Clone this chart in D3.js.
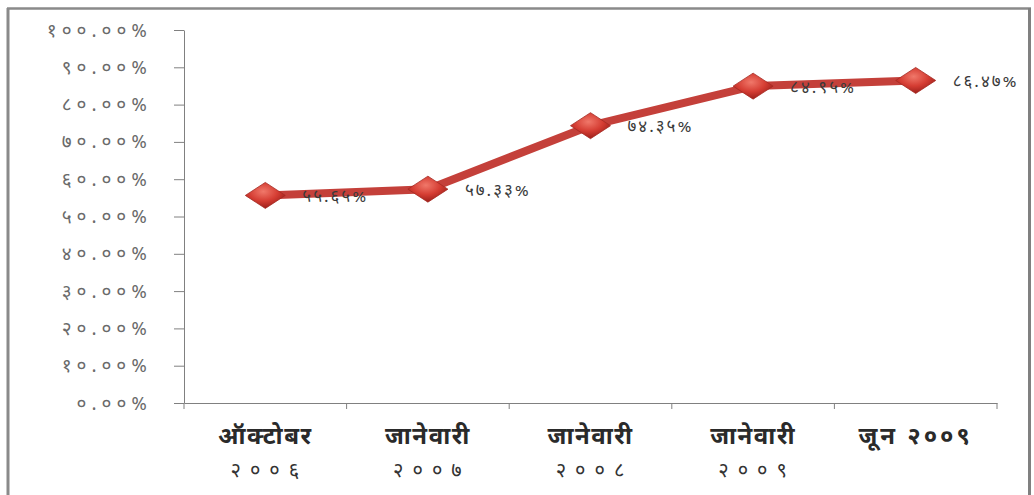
<!DOCTYPE html>
<html><head><meta charset="utf-8">
<script src="https://cdn.jsdelivr.net/npm/d3@7"></script>
<style>
html,body{margin:0;padding:0;background:#fff;}
svg{display:block;}
</style></head>
<body>
<svg id="c" width="1034" height="495"></svg>
<script>
const categoriesLine1 = ["ऑक्टोबर", "जानेवारी", "जानेवारी", "जानेवारी", "जून २००९"];
const categoriesLine2 = ["२००६", "२००७", "२००८", "२००९", ""];
const values = [55.65, 57.33, 74.35, 84.95, 86.47];
const valueLabels = ["५५.६५%", "५७.३३%", "७४.३५%", "८४.९५%", "८६.४७%"];
const yTicks = [0, 10, 20, 30, 40, 50, 60, 70, 80, 90, 100];
const yTickLabels = ["०.००%", "१०.००%", "२०.००%", "३०.००%", "४०.००%", "५०.००%", "६०.००%", "७०.००%", "८०.००%", "९०.००%", "१००.००%"];

const svg = d3.select("#c");
const FONT = "'Noto Sans Devanagari','Noto Sans','Lohit Devanagari',sans-serif";

// frame
svg.append("rect").attr("x",0).attr("y",0).attr("width",1034).attr("height",495).attr("fill","#fff");
svg.append("line").attr("x1",7).attr("x2",1031).attr("y1",8.5).attr("y2",8.5).attr("stroke","#8a8a8a").attr("stroke-width",2.5);
svg.append("line").attr("x1",8).attr("x2",8).attr("y1",8).attr("y2",495).attr("stroke","#8a8a8a").attr("stroke-width",3);
svg.append("line").attr("x1",1029.5).attr("x2",1029.5).attr("y1",8).attr("y2",495).attr("stroke","#808080").attr("stroke-width",3);

const x = d3.scaleBand().domain(d3.range(categoriesLine1.length)).range([184, 997]).padding(0);
const y = d3.scaleLinear().domain([0, 100]).range([403, 30]);

// y axis
const yAxis = d3.axisLeft(y).tickValues(yTicks).tickSize(10).tickSizeOuter(0)
  .tickFormat((d,i)=>yTickLabels[i]).tickPadding(22);
const gy = svg.append("g").attr("transform","translate(184,0)").call(yAxis);
gy.select(".domain").attr("stroke","#808080");
gy.selectAll(".tick line").attr("stroke","#808080");
gy.selectAll(".tick text").attr("fill","#6a6a6a").style("font-family",FONT)
  .style("font-size","19px").style("letter-spacing","5px");

// x axis
const xAxis = d3.axisBottom(x).tickValues([]).tickSizeOuter(0);
const gx = svg.append("g").attr("transform","translate(0,403)").call(xAxis);
gx.select(".domain").attr("stroke","#808080");
const edges = d3.range(categoriesLine1.length + 1).map(i => i < categoriesLine1.length ? x(i) : x.range()[1]);
gx.selectAll(".xt").data(edges).join("line").attr("class","xt")
  .attr("x1",d=>d).attr("x2",d=>d).attr("y1",0).attr("y2",6).attr("stroke","#808080");

const cx = i => x(i) + x.bandwidth()/2;

const lbl = svg.append("g");
categoriesLine1.forEach((c,i)=>{
  lbl.append("text").attr("x",cx(i)).attr("y",444).attr("text-anchor","middle")
    .attr("fill","#2a2a2a").style("font-family",FONT).style("font-size","24px").style("font-weight","bold")
    .style("letter-spacing", i===4 ? "3px" : "1.5px")
    .text(c);
  if (categoriesLine2[i]) {
    lbl.append("text").attr("x",cx(i)+4).attr("y",477).attr("text-anchor","middle")
      .attr("fill","#333").style("font-family",FONT).style("font-size","20px")
      .style("letter-spacing","9px")
      .text(categoriesLine2[i]);
  }
});

// gradient for markers
const defs = svg.append("defs");
const rg = defs.append("radialGradient").attr("id","mg").attr("cx","45%").attr("cy","35%").attr("r","65%");
rg.append("stop").attr("offset","0%").attr("stop-color","#f0786a");
rg.append("stop").attr("offset","55%").attr("stop-color","#d53d33");
rg.append("stop").attr("offset","100%").attr("stop-color","#9c1f1a");

// line
const line = d3.line().x((d,i)=>cx(i)).y(d=>y(d));
svg.append("path").datum(values).attr("d",line).attr("fill","none")
  .attr("stroke","#c4403a").attr("stroke-width",8).attr("stroke-linejoin","round");

// markers
const hw = 20, hh = 13;
svg.append("g").selectAll("path").data(values).join("path")
  .attr("transform",(d,i)=>`translate(${cx(i)},${y(d)})`)
  .attr("d",`M${-hw},0L0,${-hh}L${hw},0L0,${hh}Z`)
  .attr("fill","url(#mg)").attr("stroke","#a52a22").attr("stroke-width",0.8);

// value labels
svg.append("g").selectAll("text").data(values).join("text")
  .attr("x",(d,i)=>cx(i)+37).attr("y",d=>y(d)+2)
  .attr("dominant-baseline","middle")
  .attr("fill","#3a3a3a").style("font-family",FONT).style("font-size","17px").style("letter-spacing","2px")
  .text((d,i)=>valueLabels[i]);
</script>
</body></html>
